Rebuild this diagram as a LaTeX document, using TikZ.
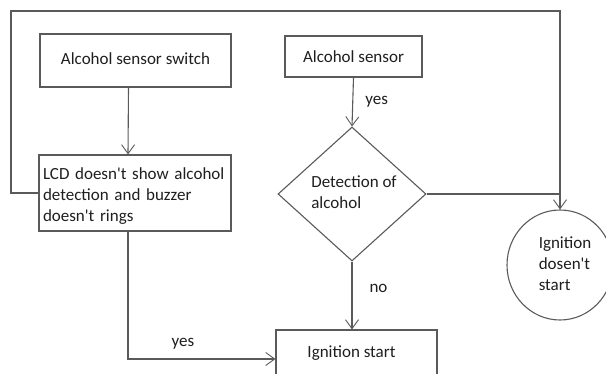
\documentclass[tikz,border=0pt]{standalone}
\usepackage{fontspec}
\setmainfont{Carlito}
\usetikzlibrary{arrows.meta,shapes.geometric}
\definecolor{linec}{HTML}{5A5A5A}
\definecolor{textc}{HTML}{1E1E1E}
\newcommand{\ap}{\textquotesingle}
\begin{document}
\begin{tikzpicture}[x=1pt,y=-1pt,
  font=\fontsize{17}{21}\selectfont,
  every node/.style={text=textc},
  conn/.style={draw=linec, line width=1.1pt},
  arr/.style={conn, -{Straight Barb[length=9pt,width=13pt,line width=0.9pt]}},
  boxnode/.style={draw=linec, line width=1.1pt, rectangle, inner sep=0pt},
  lbl/.style={inner sep=0pt}]
\useasboundingbox (0,0) rectangle (606,374);
\clip (0,0) rectangle (606,374);
% nodes
\node[boxnode, minimum width=191pt, minimum height=53pt] (sw) at (135.5,60.5) {};
\node[lbl] (swtext) at (135.5,59) {Alcohol sensor switch};
\node[boxnode, minimum width=192pt, minimum height=76pt] (lcd) at (135,193) {};
\node[lbl, text width=184pt, align=left] (lcdtext) at (135,196) {LCD doesn\ap t show alcohol\\detection and buzzer\\doesn\ap t rings};
\node[boxnode, minimum width=137pt, minimum height=41pt] (sen) at (353.5,56.5) {Alcohol sensor};
\node[draw=linec, line width=1.1pt, diamond, minimum width=148pt, minimum height=134pt, inner sep=0pt] (det) at (352,194) {};
\node[lbl, align=left] (dettext) at (354,192) {Detection of\\alcohol};
\node[boxnode, minimum width=161pt, minimum height=48pt] (ign) at (356.5,354) {};
\node[lbl] (igntext) at (351.5,353) {Ignition start};
\node[draw=linec, line width=1.1pt, ellipse, minimum width=106pt, minimum height=110pt, inner sep=0pt] (nost) at (560,265) {};
\node[lbl, align=left] (nosttext) at (565,264) {Ignition\\dosen\ap t\\start};
% connectors
\coordinate (tl) at (11,11);
\draw[arr] ([xshift=-7pt]sw.south) -- ([xshift=-7pt]lcd.north);
\draw[arr] (lcd.west) -| (tl) -| (nost.north);
\draw[conn] (det.east) -- (det.east -| nost.north);
\draw[arr] (sen.south) -- (det.north) node[lbl, midway, right=12pt] (y1) {yes};
\draw[arr] (det.south) -- (det.south |- ign.north) node[lbl, pos=0.4, right=17pt] (n1) {no};
\draw[arr] ([xshift=-7pt]lcd.south) |- ([yshift=-5pt]ign.west) node[lbl, pos=0.686, above=9pt] (y2) {yes};
\end{tikzpicture}
\end{document}
